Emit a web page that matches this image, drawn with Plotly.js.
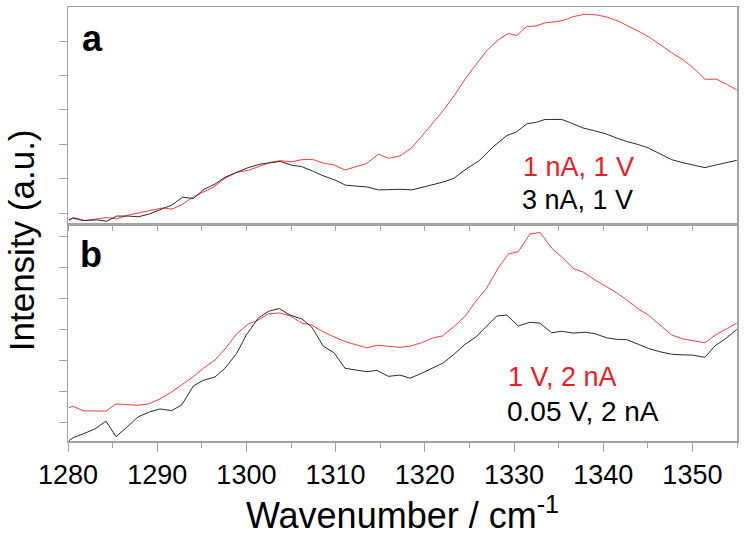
<!DOCTYPE html>
<html>
<head>
<meta charset="utf-8">
<script src="https://cdn.plot.ly/plotly-3.0.1.min.js"></script>
<style>
  html, body { margin: 0; padding: 0; background: #fff; }
  #chart { width: 744px; height: 536px; }
</style>
</head>
<body>
<div id="chart"></div>
<script>
// ---------- Panel a ----------
const aBlackX = [1280.11,1280.53,1281.72,1283.22,1284.34,1285.46,1286.76,1287.88,1289.00,1290.31,1291.63,1292.86,1294.05,1295.25,1296.48,1297.60,1298.91,1300.21,1301.52,1302.65,1303.77,1305.08,1306.20,1307.50,1308.62,1309.93,1311.11,1312.37,1313.49,1314.79,1316.10,1317.33,1318.53,1319.65,1320.95,1322.07,1323.27,1324.70,1326.08,1327.65,1329.18,1330.30,1331.42,1332.54,1333.48,1335.35,1336.28,1337.77,1338.89,1340.20,1341.51,1342.63,1343.94,1345.06,1346.37,1347.68,1348.98,1350.29,1351.41,1352.72,1353.85,1354.97];
const aBlackY = [-0.20,-0.15,-0.22,-0.20,-0.24,-0.09,-0.09,-0.11,-0.04,0.09,0.23,0.46,0.42,0.69,0.84,1.04,1.18,1.32,1.42,1.47,1.50,1.39,1.35,1.21,1.08,0.96,0.81,0.78,0.76,0.67,0.68,0.69,0.67,0.74,0.84,0.90,1.01,1.29,1.52,1.92,2.25,2.36,2.59,2.64,2.72,2.72,2.63,2.47,2.40,2.31,2.18,2.08,1.99,1.89,1.72,1.55,1.46,1.39,1.32,1.40,1.46,1.53];

const aRedX = [1280.11,1280.59,1281.91,1283.22,1284.34,1285.46,1286.76,1288.07,1289.38,1290.68,1291.63,1292.75,1294.05,1295.17,1296.29,1297.60,1298.91,1300.21,1301.52,1302.65,1303.77,1305.08,1306.20,1307.41,1308.62,1309.82,1311.05,1312.37,1313.49,1314.79,1315.91,1317.22,1318.53,1319.65,1320.77,1322.07,1323.39,1324.70,1325.82,1326.94,1328.24,1329.36,1330.30,1331.42,1332.54,1333.48,1334.60,1335.53,1336.65,1337.96,1339.27,1340.39,1341.69,1342.81,1344.13,1345.25,1346.37,1347.68,1348.98,1350.10,1351.41,1352.72,1353.85,1354.97];
const aRedY = [-0.22,-0.13,-0.22,-0.18,-0.13,-0.17,-0.06,0.01,0.09,0.15,0.11,0.24,0.47,0.61,0.75,1.01,1.18,1.24,1.37,1.47,1.52,1.49,1.55,1.56,1.45,1.40,1.25,1.35,1.44,1.71,1.59,1.66,1.90,2.23,2.57,2.98,3.45,3.96,4.34,4.72,5.04,5.22,5.16,5.42,5.44,5.53,5.56,5.60,5.71,5.78,5.76,5.70,5.58,5.44,5.26,5.10,4.89,4.66,4.45,4.22,3.89,3.89,3.74,3.58];

// ---------- Panel b ----------
const bBlackX = [1280.11,1280.59,1281.72,1283.03,1284.26,1285.38,1286.58,1287.88,1289.19,1290.31,1291.63,1292.75,1294.05,1295.17,1296.48,1297.60,1298.91,1300.03,1301.33,1302.46,1303.69,1304.89,1306.20,1307.32,1308.62,1309.82,1311.05,1312.37,1313.49,1314.64,1315.91,1317.22,1318.34,1319.65,1320.86,1322.07,1323.27,1324.51,1325.74,1326.94,1328.06,1329.18,1330.48,1331.79,1332.91,1334.23,1335.35,1336.65,1337.96,1339.08,1340.39,1341.51,1342.63,1343.94,1345.06,1346.37,1347.68,1348.98,1350.10,1351.41,1352.53,1353.85,1354.97];
const bBlackY = [-0.58,-0.48,-0.36,-0.20,0.05,-0.45,-0.15,0.19,0.35,0.44,0.39,0.57,1.18,1.36,1.47,1.75,2.23,2.84,3.36,3.58,3.67,3.46,3.34,3.08,2.46,2.25,1.75,1.70,1.64,1.68,1.49,1.53,1.43,1.59,1.75,1.92,2.20,2.52,2.76,3.09,3.43,3.46,3.11,3.23,3.20,2.89,2.94,2.88,2.91,2.86,2.73,2.68,2.67,2.52,2.39,2.28,2.20,2.18,2.17,2.10,2.47,2.73,3.00];

const bRedX = [1280.11,1280.53,1281.72,1283.03,1284.26,1285.38,1286.58,1287.88,1289.00,1290.31,1291.43,1292.75,1294.05,1295.17,1296.48,1297.60,1298.91,1300.21,1301.33,1302.46,1303.69,1304.89,1306.20,1307.32,1308.62,1309.82,1311.05,1312.37,1313.49,1314.75,1315.91,1317.22,1318.34,1319.65,1320.86,1321.98,1323.27,1324.51,1325.63,1326.94,1328.24,1329.36,1330.48,1331.79,1332.91,1334.23,1335.35,1336.65,1337.77,1339.08,1340.39,1341.51,1342.63,1343.94,1345.06,1346.37,1347.68,1348.98,1350.10,1351.41,1352.53,1353.85,1354.97];
const bRedY = [0.48,0.53,0.38,0.38,0.37,0.60,0.57,0.56,0.60,0.76,0.95,1.21,1.48,1.75,2.01,2.37,2.86,3.17,3.30,3.50,3.53,3.44,3.20,3.14,2.92,2.76,2.61,2.50,2.41,2.49,2.45,2.42,2.46,2.57,2.72,2.79,3.09,3.42,3.87,4.33,4.98,5.42,5.50,6.07,6.12,5.61,5.33,4.96,4.84,4.59,4.37,4.18,3.95,3.66,3.46,3.14,2.82,2.69,2.63,2.57,2.81,3.02,3.20];

const xTickVals = [1280,1290,1300,1310,1320,1330,1340,1350];
const xTickText = ['1280','1290','1300','1310','1320','1330','1340','1350'];
const aYTicks = [0,1,2,3,4,5];
const bYTicks = [0,1,2,3,4,5,6];
const seriesNames = ['1 nA, 1 V','3 nA, 1 V','1 V, 2 nA','0.05 V, 2 nA'];
const panelLabels = ['a','b'];

const RED = '#ff3b3b';
const BLK = '#2b2b2b';
const AXC = '#a3a3a3';
const FONT = 'Arial, "Liberation Sans", Helvetica, sans-serif';

const traces = [
  {x: aRedX, y: aRedY, xaxis: 'x2', yaxis: 'y', mode: 'lines', name: seriesNames[0], line: {color: RED, width: 1}},
  {x: aBlackX, y: aBlackY, xaxis: 'x2', yaxis: 'y', mode: 'lines', name: seriesNames[1], line: {color: BLK, width: 1}},
  {x: bRedX, y: bRedY, xaxis: 'x', yaxis: 'y2', mode: 'lines', name: seriesNames[2], line: {color: RED, width: 1}},
  {x: bBlackX, y: bBlackY, xaxis: 'x', yaxis: 'y2', mode: 'lines', name: seriesNames[3], line: {color: BLK, width: 1}}
];

const commonX = {
  range: [1280, 1355], showgrid: false, zeroline: false,
  showline: true, linecolor: AXC, linewidth: 1.5, mirror: true,
  ticks: 'outside', tickcolor: AXC, tickwidth: 1,
  tickmode: 'array', tickvals: xTickVals, ticktext: xTickText,
  minor: {dtick: 5, tick0: 1280, ticks: 'outside', ticklen: 5, tickcolor: AXC, tickwidth: 1, showgrid: false}
};

const layout = {
  width: 744, height: 536,
  margin: {l: 68, r: 7, t: 7, b: 95},
  paper_bgcolor: '#fff', plot_bgcolor: '#fff',
  showlegend: false,
  font: {family: FONT, color: '#000'},
  xaxis: Object.assign({}, commonX, {
    domain: [0, 1], anchor: 'y2', ticklen: 9,
    tickfont: {size: 27, family: FONT, color: '#000'},
    title: {text: 'Wavenumber / cm<sup>-1</sup>', font: {size: 36, family: FONT, color: '#000'}, standoff: 2}
  }),
  xaxis2: Object.assign({}, commonX, {
    domain: [0, 1], anchor: 'y', matches: 'x', ticklen: 5, showticklabels: false
  }),
  yaxis: {
    domain: [0.5, 1], anchor: 'x2', range: [-0.32, 5.99],
    showgrid: false, zeroline: false, showline: true, linecolor: AXC, linewidth: 1.5, mirror: true,
    ticks: 'outside', ticklen: 8, tickcolor: AXC, tickmode: 'array', tickvals: aYTicks, showticklabels: false
  },
  yaxis2: {
    domain: [0, 0.5], anchor: 'x', range: [-0.59, 6.39],
    showgrid: false, zeroline: false, showline: true, linecolor: AXC, linewidth: 1.5, mirror: true,
    ticks: 'outside', ticklen: 8, tickcolor: AXC, tickmode: 'array', tickvals: bYTicks, showticklabels: false
  },
  annotations: [
    {text: 'Intensity (a.u.)', textangle: -90, xref: 'paper', yref: 'paper',
     x: -0.070, y: 0.463, xanchor: 'center', yanchor: 'middle', showarrow: false,
     font: {size: 35, family: FONT, color: '#000'}},
    {text: '<b>' + panelLabels[0] + '</b>', xref: 'paper', yref: 'paper', x: 0.037, y: 0.928,
     xanchor: 'center', yanchor: 'middle', showarrow: false, font: {size: 36, family: FONT, color: '#000'}},
    {text: '<b>' + panelLabels[1] + '</b>', xref: 'paper', yref: 'paper', x: 0.034, y: 0.43,
     xanchor: 'center', yanchor: 'middle', showarrow: false, font: {size: 36, family: FONT, color: '#000'}},
    {text: seriesNames[0], xref: 'paper', yref: 'paper', x: 0.677, y: 0.632,
     xanchor: 'left', yanchor: 'middle', showarrow: false, font: {size: 27, family: FONT, color: '#ee1c24'}},
    {text: seriesNames[1], xref: 'paper', yref: 'paper', x: 0.675, y: 0.556,
     xanchor: 'left', yanchor: 'middle', showarrow: false, font: {size: 27, family: FONT, color: '#000'}},
    {text: seriesNames[2], xref: 'paper', yref: 'paper', x: 0.655, y: 0.147,
     xanchor: 'left', yanchor: 'middle', showarrow: false, font: {size: 27, family: FONT, color: '#ee1c24'}},
    {text: seriesNames[3], xref: 'paper', yref: 'paper', x: 0.653, y: 0.068,
     xanchor: 'left', yanchor: 'middle', showarrow: false, font: {size: 28, family: FONT, color: '#000'}}
  ]
};

Plotly.newPlot('chart', traces, layout, {displayModeBar: false, staticPlot: true});
</script>
</body>
</html>
